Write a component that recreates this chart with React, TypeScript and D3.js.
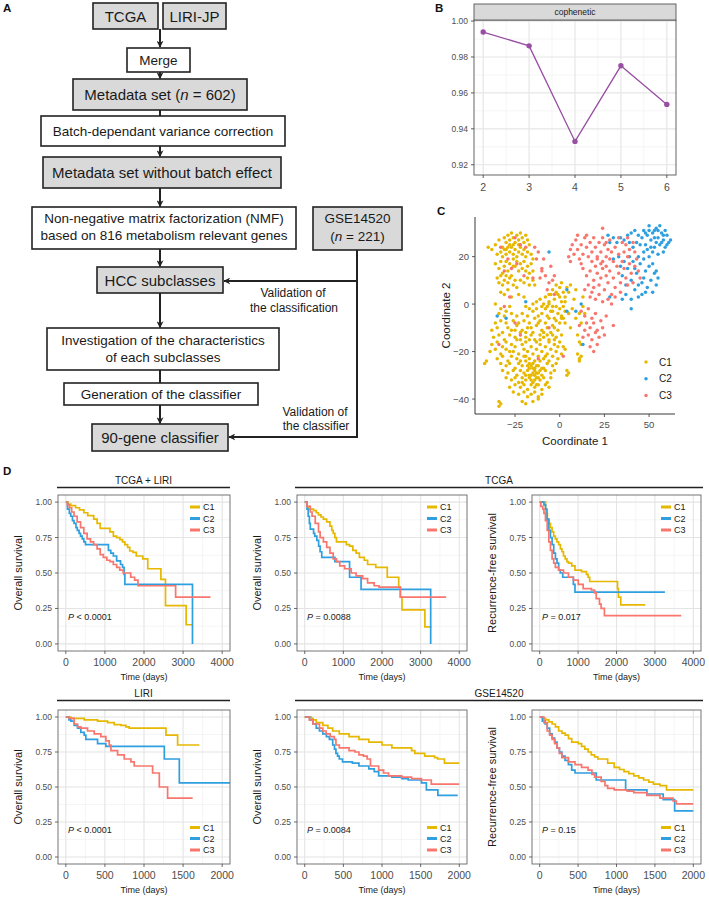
import React from "react";
import * as d3 from "d3";

const FONT = "'Liberation Sans', Arial, Helvetica, sans-serif";
const COL_C1 = "#E7B800";
const COL_C2 = "#2E9FDF";
const COL_C3 = "#F8766D";
const TICK_COL = "#4D4D4D";

// ---------- Panel B: cophenetic ----------
const rankK = [2, 3, 4, 5, 6];
const cophenetic = [0.9939, 0.9862, 0.933, 0.9751, 0.9536];
const copheneticYTicks = [0.92, 0.94, 0.96, 0.98, 1.0];

// ---------- Panel C: MDS coordinates ----------
type P = [number, number];
const mdsC1: P[] = [
  [-40,24],[-38,23],[-36,25],[-34,27],[-32,24],[-31,28],[-30,26],[-29,29],[-28,27],[-27,30],[-26,28],[-25,26],[-24,29],[-23,27],[-22,30],[-21,28],[-20,26],[-19,29],[-18,27],[-17,25],
  [-35,21],[-33,22],[-32,20],[-31,23],[-30,21],[-29,24],[-28,22],[-27,24],[-26,21],[-25,23],[-24,20],[-23,22],[-22,24],[-21,21],[-20,23],[-19,20],[-18,22],[-16,21],[-15,19],
  [-36,17],[-34,15],[-33,18],[-32,13],[-31,16],[-30,18],[-29,14],[-28,17],[-27,12],[-26,19],[-25,16],[-24,18],[-23,14],[-22,17],[-21,15],[-20,18],[-19,14],[-18,16],[-17,13],[-16,17],[-15,14],
  [-35,11],[-34,9],[-33,12],[-32,8],[-31,10],[-30,12],[-29,9],[-28,11],[-26,8],[-25,10],[-24,7],[-22,10],[-20,9],[-18,11],[-17,8],[-15,10],
  [-33,5],[-31,4],[-29,6],[-27,3],[-23,4],[-20,3],[-14,8],[-36,0],[-28,-1],[-26,25],[-28,25],[-23,25],[-30,23],[-26,16],
  [-13,1],[-11,2],[-9,0],[-8,3],[-6,1],[-5,4],[-3,2],[-2,5],[0,3],[1,1],[-4,-1],[-7,-1],
  [-33,-2],[-30,-3],[-19,-1],[-17,-2],[-15,0],[-13,-2],[-10,-1],[-8,-2],[-6,0],[-4,-3],[-2,-1],[0,-2],[2,-1],[3,1],
  [-34,-4],[-31,-5],[-27,-4],[-24,-5],[-21,-4],[-18,-5],[-15,-3],[-12,-5],[-10,-4],[-7,-5],[-5,-3],[-3,-6],[-1,-4],[1,-5],[3,-3],
  [-36,-8],[-33,-7],[-30,-8],[-26,-7],[-23,-8],[-20,-7],[-17,-8],[-14,-6],[-11,-7],[-8,-8],[-6,-6],[-4,-9],[-2,-7],[0,-8],[2,-6],
  [-38,-11],[-35,-10],[-32,-12],[-29,-10],[-27,-11],[-24,-9],[-21,-11],[-18,-10],[-15,-12],[-13,-9],[-10,-11],[-7,-10],[-5,-12],[-3,-10],[-1,-11],
  [-37,-14],[-34,-13],[-31,-15],[-28,-13],[-25,-14],[-22,-12],[-19,-14],[-16,-13],[-14,-15],[-11,-13],[-9,-14],[-6,-15],[-4,-13],[-2,-14],[1,-13],
  [-38,-17],[-35,-16],[-32,-18],[-30,-16],[-27,-17],[-24,-15],[-21,-17],[-19,-16],[-16,-18],[-13,-16],[-11,-17],[-8,-18],[-6,-16],[-3,-17],[0,-16],[2,-18],
  [-39,-20],[-36,-19],[-33,-21],[-30,-19],[-28,-20],[-25,-18],[-23,-21],[-20,-19],[-18,-20],[-15,-21],[-13,-19],[-10,-20],[-7,-21],[-5,-19],[-2,-20],[1,-21],[3,-19],
  [-35,-23],[-32,-22],[-29,-24],[-27,-22],[-24,-23],[-22,-24],[-19,-22],[-17,-23],[-14,-24],[-12,-22],[-9,-23],[-6,-24],[-4,-22],[-1,-23],
  [-42,-25],[-41,-24],[-33,-25],[-30,-26],[-28,-25],[-25,-27],[-23,-25],[-21,-26],[-19,-24],[-17,-27],[-15,-25],[-13,-26],[-11,-24],[-9,-27],[-7,-25],[-4,-26],[-2,-25],
  [-32,-28],[-29,-29],[-26,-28],[-24,-30],[-22,-28],[-20,-29],[-18,-28],[-16,-30],[-14,-28],[-12,-29],[-10,-30],[-8,-28],[-5,-29],[-3,-28],[4,-28],[4,-30],[5,-29],
  [-30,-31],[-27,-32],[-25,-31],[-23,-33],[-21,-31],[-19,-32],[-17,-31],[-15,-33],[-13,-31],[-11,-32],[-9,-31],[-7,-33],[-5,-31],
  [-28,-35],[-25,-34],[-22,-35],[-20,-34],[-18,-36],[-16,-34],[-14,-35],[-12,-34],[-10,-36],[-8,-34],[-6,-35],
  [-26,-37],[-23,-38],[-20,-37],[-18,-39],[-16,-38],[-14,-37],[-12,-39],[-10,-38],
  [-34,-41],[-33,-42],[-34,-43],[-21,-41],[-19,-42],[-15,-41],[-12,-40],
  [-18,-26],[-16,-26],[-14,-27],[-13,-29],[-15,-29],[-17,-30],[-16,-32],[-14,-32],[-12,-31],[-13,-34],[-11,-28],[-15,-27],[-17,-25],[-19,-30],[-21,-33],[-12,-26],[-10,-27],[-14,-30],
  [-16,-10],[-12,-8],[-9,-12],[-19,-12],[-22,-15],[-7,-13],[-17,-15],[-11,-15],[-25,-11],[-20,-22],[-8,-22],[-26,-20],[-3,-15],[-1,-18],
  [-4,6],[-2,8],[0,7],[2,5],[4,7],[-1,4],[1,9],[3,3],[5,5],[-6,4],[6,8],
  [1,-6],[3,-8],[5,-4],[7,-2],[9,-6],[11,-4],[13,-1],[12,-8],[8,2],[6,-10],
  [11,-16],[12,-17],[10,-21],[12,-22],[11,-23],[11,-24],[10,-13],[14,-4],[13,3],[9,6],
];
const mdsC2: P[] = [
  [46,28],[47,31],[48,25],[49,29],[50,33],[51,27],[52,30],[53,24],[54,32],[55,28],[56,25],[57,30],[58,27],[59,24],[60,29],[61,26],[52,22],[55,21],[58,22],[49,23],[50,31],[53,28],[56,33],[57,26],[59,31],[60,25],[54,26],[51,24],[48,30],[62,27],[47,22],[45,25],[44,29],[42,31],[40,30],[38,29],[36,27],[34,28],[32,26],[30,28],[28,26],[27,29],[43,26],[41,24],[39,26],[55,31],[58,29],[53,31],
  [35,12],[37,8],[38,15],[40,10],[41,18],[42,6],[43,13],[44,8],[45,17],[46,4],[47,11],[48,14],[49,7],[50,16],[51,10],[52,5],[53,13],[54,8],[55,11],[44,20],[47,19],[50,20],[36,18],[39,20],[46,9],[52,17],[42,15],[48,5],[54,14],[33,20],[34,16],[30,19],[37,4],[44,3],[40,2],
  [40,-2],[35,2],[28,3],[-35,-5],[-30,-6],[-19,1],[-6,22],[4,6],[4,-3],[13,-17],[12,0],[9,-3],
];
const mdsC3: P[] = [
  [-33,24],[-25,28],[-29,19],[-24,17],[-22,25],[-19,24],[-27,15],[-31,14],[-20,12],[-14,24],[-12,22],[-13,19],[-10,15],[-8,12],[-11,11],[-9,19],[-6,9],[-7,6],[-4,10],[-3,12],[-5,16],[-15,11],[-34,-17],[-31,-1],[-25,-8],[-22,-13],[-12,-23],[-6,-10],[2,-22],[-28,3],[-10,14],[-3,4],
  [5,20],[6,23],[7,25],[8,21],[9,27],[10,23],[11,19],[12,25],[13,21],[14,28],[15,24],[16,20],[17,26],[18,22],[19,28],[20,24],[21,19],[22,26],[23,22],[24,28],[25,25],[26,20],[27,23],[28,27],[10,29],[15,29],[6,18],[12,17],[18,18],[24,18],[24,32],
  [13,15],[15,12],[17,14],[19,10],[20,16],[21,13],[22,8],[23,11],[24,15],[25,6],[26,12],[27,9],[28,14],[29,4],[30,11],[31,7],[32,16],[33,13],[34,9],[35,18],[36,15],[37,11],[38,20],[39,17],[40,13],[41,9],[42,16],[43,19],[44,14],[45,11],[16,8],[18,5],[20,2],[22,4],[24,1],[27,2],[29,0],[31,3],[14,6],[17,3],[19,7],[23,17],[26,16],[30,18],[33,21],[36,22],[39,23],[42,22],[34,5],[38,8],[21,20],[28,19],[31,24],[35,26],[37,25],[41,26],[29,22],[26,26],[33,28],[38,28],
  [12,-3],[14,-5],[16,-2],[18,-6],[20,-4],[15,-8],[17,-10],[19,-8],[21,-11],[23,-7],[16,-13],[18,-15],[20,-12],[22,-14],[24,-10],[17,-18],[19,-20],[21,-17],[14,-11],[25,-13],[30,-9],[13,-14],[26,-5],[11,-9],
];
const mdsXTicks = [-25, 0, 25, 50];
const mdsYTicks = [-40, -20, 0, 20];

// ---------- Panel D: Kaplan-Meier steps [time, survival] ----------
type S = [number, number];
const tcgaLiriOS_C1: S[] = [[0,1],[60,.985],[126,.975],[250,.96],[350,.945],[461,.925],[560,.905],[713,.88],[800,.85],[880,.815],[1130,.79],[1216,.76],[1300,.75],[1384,.735],[1450,.72],[1510,.70],[1580,.68],[1635,.655],[1719,.645],[1803,.62],[1970,.60],[2096,.53],[2432,.455],[2550,.27],[3078,.135],[3250,.135]];
const tcgaLiriOS_C2: S[] = [[0,1],[42,.95],[90,.92],[126,.90],[170,.87],[210,.85],[260,.82],[294,.80],[340,.78],[377,.76],[420,.74],[461,.72],[503,.70],[1090,.66],[1150,.64],[1216,.62],[1300,.585],[1400,.56],[1451,.54],[1490,.49],[1510,.42],[3240,0]];
const tcgaLiriOS_C3: S[] = [[0,1],[40,.98],[90,.96],[150,.93],[210,.90],[290,.86],[377,.82],[460,.78],[545,.74],[630,.72],[713,.70],[800,.67],[880,.63],[960,.61],[1050,.59],[1130,.58],[1216,.56],[1300,.54],[1380,.52],[1468,.50],[1660,.47],[1760,.45],[1845,.41],[2809,.33],[3700,.33]];

const tcgaOS_C1: S[] = [[0,1],[50,.97],[102,.95],[229,.94],[300,.925],[356,.91],[420,.895],[483,.88],[568,.86],[653,.83],[700,.80],[737,.78],[780,.75],[822,.72],[1076,.70],[1161,.69],[1246,.66],[1330,.64],[1415,.61],[1542,.59],[1627,.56],[1839,.54],[2136,.47],[2432,.40],[2475,.33],[2517,.24],[3110,.12],[3280,.12]];
const tcgaOS_C2: S[] = [[0,1],[59,.95],[90,.90],[120,.85],[144,.81],[229,.78],[260,.76],[314,.73],[360,.69],[398,.65],[441,.61],[780,.58],[1161,.47],[1458,.385],[3260,0]];
const tcgaOS_C3: S[] = [[0,1],[60,.97],[144,.93],[190,.90],[271,.85],[356,.79],[398,.75],[483,.72],[568,.68],[653,.64],[737,.60],[822,.58],[907,.55],[1034,.53],[1203,.50],[1330,.48],[1500,.46],[1627,.43],[1797,.41],[1924,.40],[2475,.33],[3660,.33]];

const tcgaRFS_C1: S[] = [[0,1],[153,.92],[200,.88],[238,.85],[280,.82],[323,.79],[365,.76],[408,.74],[450,.72],[494,.70],[540,.67],[579,.65],[620,.62],[664,.60],[710,.58],[749,.57],[834,.55],[919,.52],[1089,.51],[1217,.49],[1260,.47],[1302,.44],[2026,.39],[2050,.33],[2111,.275],[2750,.275]];
const tcgaRFS_C2: S[] = [[0,1],[111,.98],[153,.95],[190,.88],[238,.80],[280,.75],[323,.70],[366,.64],[410,.60],[451,.57],[494,.52],[536,.50],[600,.47],[877,.42],[919,.365],[3260,.365]];
const tcgaRFS_C3: S[] = [[0,1],[30,.97],[80,.95],[111,.92],[150,.87],[196,.80],[238,.72],[280,.66],[323,.60],[365,.57],[408,.54],[494,.52],[621,.50],[749,.47],[877,.45],[1004,.42],[1132,.39],[1345,.38],[1430,.36],[1472,.32],[1557,.28],[1600,.25],[1685,.20],[3685,.20]];

const liriOS_C1: S[] = [[0,1],[64,.99],[235,.98],[406,.97],[534,.96],[619,.945],[705,.94],[769,.93],[811,.92],[1281,.87],[1430,.80],[1708,.80]];
const liriOS_C2: S[] = [[0,1],[40,.98],[64,.97],[107,.94],[150,.92],[192,.89],[235,.87],[256,.84],[406,.81],[512,.79],[1260,.70],[1452,.53],[2300,.53]];
const liriOS_C3: S[] = [[0,1],[43,.99],[107,.95],[150,.93],[192,.92],[278,.90],[363,.88],[448,.86],[512,.83],[555,.80],[577,.76],[662,.73],[747,.70],[833,.68],[875,.65],[1110,.60],[1196,.50],[1302,.42],[1622,.42]];

const gseOS_C1: S[] = [[0,1],[85,.99],[106,.98],[149,.96],[234,.94],[300,.92],[362,.90],[447,.88],[574,.86],[702,.84],[830,.82],[1000,.80],[1128,.78],[1383,.76],[1425,.74],[1553,.72],[1681,.71],[1720,.70],[1808,.67],[2000,.67]];
const gseOS_C2: S[] = [[0,1],[64,.98],[106,.95],[149,.92],[190,.90],[234,.88],[280,.86],[319,.84],[362,.80],[385,.77],[404,.74],[425,.72],[447,.70],[489,.68],[617,.67],[702,.65],[830,.63],[900,.61],[957,.58],[1128,.57],[1255,.56],[1340,.55],[1510,.53],[1574,.48],[1723,.44],[1980,.44]];
const gseOS_C3: S[] = [[0,1],[60,.98],[106,.95],[191,.92],[234,.90],[277,.88],[330,.86],[383,.84],[404,.80],[447,.78],[574,.76],[650,.75],[702,.73],[760,.72],[808,.70],[851,.65],[957,.62],[1020,.60],[1085,.58],[1255,.57],[1383,.56],[1510,.55],[1638,.52],[2000,.52]];

const gseRFS_C1: S[] = [[0,1],[40,.99],[77,.98],[120,.965],[162,.95],[205,.93],[247,.90],[290,.885],[332,.87],[375,.845],[417,.82],[502,.81],[545,.79],[587,.77],[630,.75],[672,.73],[715,.715],[757,.70],[885,.67],[970,.64],[1040,.625],[1098,.61],[1160,.595],[1225,.58],[1290,.565],[1353,.55],[1420,.535],[1481,.52],[1566,.51],[1651,.48],[2000,.48]];
const gseRFS_C2: S[] = [[0,1],[34,.97],[70,.95],[98,.92],[130,.88],[162,.85],[195,.82],[225,.78],[257,.75],[289,.72],[330,.69],[374,.66],[417,.62],[460,.60],[736,.55],[1119,.48],[1396,.45],[1608,.41],[1757,.33],[2000,.33]];
const gseRFS_C3: S[] = [[0,1],[55,.96],[98,.90],[130,.87],[162,.84],[195,.81],[225,.78],[257,.74],[289,.71],[374,.68],[460,.66],[545,.64],[630,.62],[680,.59],[715,.57],[800,.54],[850,.51],[885,.49],[970,.48],[1140,.47],[1225,.46],[1396,.44],[1566,.42],[1736,.40],[1779,.38],[2000,.38]];

const kmYTicks = [0, 0.25, 0.5, 0.75, 1];
const kmXTicksLong = [0, 1000, 2000, 3000, 4000];
const kmXTicksShort = [0, 500, 1000, 1500, 2000];
const groupNames = ["C1", "C2", "C3"];
const groupColors = [COL_C1, COL_C2, COL_C3];

// ---------- Flowchart ----------
function Box({ x, y, w, h, fill, children }: any) {
  return (
    <g>
      <rect x={x} y={y} width={w} height={h} fill={fill ? "#D9D9D9" : "#fff"} stroke="#222" strokeWidth={1.6} />
      {children}
    </g>
  );
}

function Flowchart() {
  const t = (x: number, y: number, s: string, fs: number) => (
    <text x={x} y={y} textAnchor="middle" fontSize={fs} fill="#1a1a1a" fontFamily={FONT}>{s}</text>
  );
  const arrow = "url(#arrowHead)";
  return (
    <g>
      <Box x={93} y={3} w={65} h={26} fill>{t(125.5, 21.5, "TCGA", 15)}</Box>
      <Box x={163} y={3} w={63} h={26} fill>{t(194.5, 21.5, "LIRI-JP", 15)}</Box>
      <line x1={160} y1={29} x2={160} y2={47} stroke="#222" strokeWidth={2} markerEnd={arrow} />
      <Box x={127} y={48} w={63} h={24}>{t(158.5, 64.5, "Merge", 13.5)}</Box>
      <line x1={160} y1={72} x2={160} y2={78.5} stroke="#222" strokeWidth={2} markerEnd={arrow} />
      <Box x={73} y={79} w={174} h={31} fill>
        <text x={160} y={100} textAnchor="middle" fontSize={15} fill="#1a1a1a" fontFamily={FONT}>
          Metadata set (<tspan fontStyle="italic">n</tspan> = 602)
        </text>
      </Box>
      <line x1={160} y1={110} x2={160} y2={116} stroke="#222" strokeWidth={2} />
      <Box x={41} y={116} w={244} h={30}>{t(163, 135.5, "Batch-dependant variance correction", 13.5)}</Box>
      <line x1={160} y1={146} x2={160} y2={156.5} stroke="#222" strokeWidth={2} markerEnd={arrow} />
      <Box x={43} y={157} w={238} h={31} fill>{t(162, 178, "Metadata set without batch effect", 15)}</Box>
      <line x1={160} y1={188} x2={160} y2={206.5} stroke="#222" strokeWidth={2} markerEnd={arrow} />
      <Box x={32} y={207} w={264} h={42}>
        {t(164, 223, "Non-negative matrix factorization (NMF)", 13.5)}
        {t(164, 240, "based on 816 metabolism relevant genes", 13.5)}
      </Box>
      <Box x={313} y={207} w={89} h={43} fill>
        {t(357.5, 223, "GSE14520", 13.5)}
        <text x={357.5} y={241} textAnchor="middle" fontSize={13.5} fill="#1a1a1a" fontFamily={FONT}>
          (<tspan fontStyle="italic">n</tspan> = 221)
        </text>
      </Box>
      <line x1={160} y1={249} x2={160} y2={266.5} stroke="#222" strokeWidth={2} markerEnd={arrow} />
      <Box x={97} y={267} w={126} h={26} fill>{t(160, 285.5, "HCC subclasses", 15)}</Box>
      <line x1={357} y1={250} x2={357} y2={437} stroke="#222" strokeWidth={2} />
      <line x1={358} y1={281} x2={224} y2={281} stroke="#222" strokeWidth={2} markerEnd={arrow} />
      {t(293, 297, "Validation of", 12)}
      {t(294, 312, "the classification", 12)}
      <line x1={160} y1={293} x2={160} y2={327.5} stroke="#222" strokeWidth={2} markerEnd={arrow} />
      <Box x={47} y={328} w={232} h={42}>
        {t(163, 345, "Investigation of the characteristics", 13.5)}
        {t(163, 361.5, "of each subclasses", 13.5)}
      </Box>
      <line x1={160} y1={370} x2={160} y2={383} stroke="#222" strokeWidth={2} />
      <Box x={64} y={383} w={194} h={22}>{t(161, 398.5, "Generation of the classifier", 13.5)}</Box>
      <line x1={160} y1={405} x2={160} y2={423.5} stroke="#222" strokeWidth={2} markerEnd={arrow} />
      <Box x={92} y={424} w={136} h={27} fill>{t(160, 443, "90-gene classifier", 15)}</Box>
      <line x1={358} y1={437} x2={229} y2={437} stroke="#222" strokeWidth={2} markerEnd={arrow} />
      {t(315, 416, "Validation of", 12)}
      {t(316, 430, "the classifier", 12)}
    </g>
  );
}

// ---------- Panel B ----------
function PanelB() {
  const L = 474, R = 676, T = 20, B = 175;
  const x = d3.scaleLinear().domain([1.8, 6.2]).range([L, R]);
  const y = d3.scaleLinear().domain([0.9143, 1.0006]).range([B, T]);
  const minorX = [2.5, 3.5, 4.5, 5.5];
  const minorY = [0.93, 0.95, 0.97, 0.99];
  const pts = rankK.map((k, i) => [k, cophenetic[i]] as [number, number]);
  const line = d3.line<[number, number]>().x(d => x(d[0])).y(d => y(d[1]));
  return (
    <g fontFamily={FONT}>
      <rect x={L} y={T} width={R - L} height={B - T} fill="#fff" />
      {minorX.map(v => <line key={"mx" + v} x1={x(v)} x2={x(v)} y1={T} y2={B} stroke="#F2F2F2" strokeWidth={0.8} />)}
      {minorY.map(v => <line key={"my" + v} y1={y(v)} y2={y(v)} x1={L} x2={R} stroke="#F2F2F2" strokeWidth={0.8} />)}
      {rankK.map(v => <line key={"gx" + v} x1={x(v)} x2={x(v)} y1={T} y2={B} stroke="#E6E6E6" strokeWidth={1.2} />)}
      {copheneticYTicks.map(v => <line key={"gy" + v} y1={y(v)} y2={y(v)} x1={L} x2={R} stroke="#E6E6E6" strokeWidth={1.2} />)}
      <path d={line(pts) || ""} fill="none" stroke="#984EA3" strokeWidth={1.3} />
      {pts.map((p, i) => <circle key={i} cx={x(p[0])} cy={y(p[1])} r={2.7} fill="#984EA3" />)}
      <rect x={L} y={T} width={R - L} height={B - T} fill="none" stroke="#555" strokeWidth={0.9} />
      <rect x={L} y={4} width={R - L} height={16} fill="#D9D9D9" stroke="#555" strokeWidth={0.9} />
      <text x={(L + R) / 2} y={15} textAnchor="middle" fontSize={8.5} fill="#1a1a1a">cophenetic</text>
      {copheneticYTicks.map(v => (
        <g key={"ty" + v}>
          <line x1={L - 3} x2={L} y1={y(v)} y2={y(v)} stroke="#333" strokeWidth={0.8} />
          <text x={L - 6} y={y(v) + 3} textAnchor="end" fontSize={8.5} fill={TICK_COL}>{v.toFixed(2)}</text>
        </g>
      ))}
      {rankK.map(v => (
        <g key={"tx" + v}>
          <line x1={x(v)} x2={x(v)} y1={B} y2={B + 3} stroke="#333" strokeWidth={0.8} />
          <text x={x(v)} y={B + 16} textAnchor="middle" fontSize={10.5} fill={TICK_COL}>{v}</text>
        </g>
      ))}
    </g>
  );
}

// ---------- Panel C ----------
function PanelC() {
  const L = 475, R = 675, T = 217, B = 414;
  const x = d3.scaleLinear().domain([-47.4, 64.5]).range([L, R]);
  const y = d3.scaleLinear().domain([-46.3, 36.7]).range([B, T]);
  const groups: [P[], string][] = [[mdsC1, COL_C1], [mdsC2, COL_C2], [mdsC3, COL_C3]];
  return (
    <g fontFamily={FONT}>
      {groups.map(([pts, c], gi) => pts.map((p, i) => (
        <circle key={gi + "-" + i} cx={x(p[0])} cy={y(p[1])} r={1.75} fill={c} />
      )))}
      <line x1={L} x2={L} y1={T} y2={B} stroke="#222" strokeWidth={0.9} />
      <line x1={L} x2={R} y1={B} y2={B} stroke="#222" strokeWidth={0.9} />
      {mdsXTicks.map(v => (
        <g key={"x" + v}>
          <line x1={x(v)} x2={x(v)} y1={B} y2={B + 3} stroke="#333" strokeWidth={0.8} />
          <text x={x(v)} y={B + 14} textAnchor="middle" fontSize={9.5} fill={TICK_COL}>{v < 0 ? "\u2212" + Math.abs(v) : v}</text>
        </g>
      ))}
      {mdsYTicks.map(v => (
        <g key={"y" + v}>
          <line x1={L - 3} x2={L} y1={y(v)} y2={y(v)} stroke="#333" strokeWidth={0.8} />
          <text x={L - 6} y={y(v) + 3.5} textAnchor="end" fontSize={9.5} fill={TICK_COL}>{v < 0 ? "\u2212" + Math.abs(v) : v}</text>
        </g>
      ))}
      <text x={(L + R) / 2} y={445} textAnchor="middle" fontSize={11.5} fill="#1a1a1a">Coordinate 1</text>
      <text transform={`translate(450,${(T + B) / 2}) rotate(-90)`} textAnchor="middle" fontSize={11.5} fill="#1a1a1a">Coordinate 2</text>
      {groupNames.map((g, i) => (
        <g key={g}>
          <circle cx={646} cy={362 + i * 16.8} r={1.75} fill={groupColors[i]} />
          <text x={659} y={362 + i * 16.8 + 3.5} fontSize={10} fill="#1a1a1a">{g}</text>
        </g>
      ))}
    </g>
  );
}

// ---------- Panel D ----------
type KMProps = {
  id: string; left: number; right: number; top: number; bottom: number;
  xMax: number; xTicks: number[]; yTitle: string; pText: string;
  curves: S[][]; legendTop: boolean;
};

function KMPanel({ id, left, right, top, bottom, xMax, xTicks, yTitle, pText, curves, legendTop }: KMProps) {
  const x = d3.scaleLinear().domain([-0.05 * xMax, 1.05 * xMax]).range([left, right]);
  const y = d3.scaleLinear().domain([-0.05, 1.05]).range([bottom, top]);
  const step = xTicks[1] - xTicks[0];
  const minorX = xTicks.slice(0, -1).map(v => v + step / 2);
  const minorY = [0.125, 0.375, 0.625, 0.875];
  const line = d3.line<S>().x(d => x(d[0])).y(d => y(d[1])).curve(d3.curveStepAfter);
  const legendYs = legendTop ? [top + 12, top + 23.5, top + 35] : [bottom - 36.5, bottom - 25.5, bottom - 14];
  return (
    <g fontFamily={FONT}>
      <defs>
        <clipPath id={"clip-" + id}><rect x={left} y={top} width={right - left} height={bottom - top} /></clipPath>
      </defs>
      <rect x={left} y={top} width={right - left} height={bottom - top} fill="#fff" />
      {minorX.map(v => <line key={"mx" + v} x1={x(v)} x2={x(v)} y1={top} y2={bottom} stroke="#F2F2F2" strokeWidth={0.8} />)}
      {minorY.map(v => <line key={"my" + v} y1={y(v)} y2={y(v)} x1={left} x2={right} stroke="#F2F2F2" strokeWidth={0.8} />)}
      {xTicks.map(v => <line key={"gx" + v} x1={x(v)} x2={x(v)} y1={top} y2={bottom} stroke="#E4E4E4" strokeWidth={1.1} />)}
      {kmYTicks.map(v => <line key={"gy" + v} y1={y(v)} y2={y(v)} x1={left} x2={right} stroke="#E4E4E4" strokeWidth={1.1} />)}
      <g clipPath={`url(#clip-${id})`}>
        {curves.map((c, i) => (
          <path key={i} d={line(c) || ""} fill="none" stroke={groupColors[i]} strokeWidth={1.7} />
        ))}
      </g>
      <rect x={left} y={top} width={right - left} height={bottom - top} fill="none" stroke="#666" strokeWidth={0.9} />
      {kmYTicks.map(v => (
        <g key={"ty" + v}>
          <line x1={left - 3} x2={left} y1={y(v)} y2={y(v)} stroke="#444" strokeWidth={0.8} />
          <text x={left - 6} y={y(v) + 3} textAnchor="end" fontSize={8.5} fill={TICK_COL}>{v.toFixed(2)}</text>
        </g>
      ))}
      {xTicks.map(v => (
        <g key={"tx" + v}>
          <line x1={x(v)} x2={x(v)} y1={bottom} y2={bottom + 3} stroke="#444" strokeWidth={0.8} />
          <text x={x(v)} y={bottom + 15} textAnchor="middle" fontSize={10.5} fill={TICK_COL}>{v}</text>
        </g>
      ))}
      <text x={(left + right) / 2} y={bottom + 29} textAnchor="middle" fontSize={9} fill="#1a1a1a">Time (days)</text>
      <text transform={`translate(${left - 36},${(top + bottom) / 2}) rotate(-90)`} textAnchor="middle" fontSize={11} fill="#1a1a1a">{yTitle}</text>
      <text x={left + 10} y={y(0.19) + 3} fontSize={9} fill="#1a1a1a">
        <tspan fontStyle="italic">P</tspan>{pText}
      </text>
      {groupNames.map((g, i) => (
        <g key={g}>
          <line x1={right - 40} x2={right - 30} y1={legendYs[i]} y2={legendYs[i]} stroke={groupColors[i]} strokeWidth={3} />
          <text x={right - 27} y={legendYs[i] + 3.2} fontSize={9} fill="#1a1a1a">{g}</text>
        </g>
      ))}
    </g>
  );
}

function Header({ x1, x2, y, label }: { x1: number; x2: number; y: number; label: string }) {
  return (
    <g fontFamily={FONT}>
      <text x={(x1 + x2) / 2} y={y - 4} textAnchor="middle" fontSize={10} fill="#1a1a1a">{label}</text>
      <line x1={x1} x2={x2} y1={y} y2={y} stroke="#222" strokeWidth={1.6} />
    </g>
  );
}

const panelLefts = [58, 297, 532];
const panelRights = [230, 467, 701];

export default function App() {
  const topT = 495, topB = 651, botT = 710, botB = 864;
  return (
    <svg width={709} height={899} viewBox="0 0 709 899" style={{ position: "absolute", left: 0, top: 0, background: "#fff" }}>
      <defs>
        <marker id="arrowHead" viewBox="0 0 10 10" refX="9" refY="5" markerWidth="7" markerHeight="7" orient="auto" markerUnits="userSpaceOnUse">
          <path d="M0,0 L10,5 L0,10 L3,5 z" fill="#222" />
        </marker>
      </defs>
      <rect x={0} y={0} width={709} height={899} fill="#fff" />
      <g fontFamily={FONT} fontWeight="bold" fontSize={11.5} fill="#111">
        <text x={3} y={12}>A</text>
        <text x={435} y={12}>B</text>
        <text x={437} y={215}>C</text>
        <text x={3} y={475}>D</text>
      </g>
      <Flowchart />
      <PanelB />
      <PanelC />

      <Header x1={57} x2={230} y={487.5} label="TCGA + LIRI" />
      <Header x1={295} x2={703} y={487.5} label="TCGA" />
      <Header x1={57} x2={230} y={700.5} label="LIRI" />
      <Header x1={295} x2={703} y={700.5} label="GSE14520" />

      <KMPanel id="k1" left={panelLefts[0]} right={panelRights[0]} top={topT} bottom={topB} xMax={4000} xTicks={kmXTicksLong}
        yTitle="Overall survival" pText=" < 0.0001" curves={[tcgaLiriOS_C1, tcgaLiriOS_C2, tcgaLiriOS_C3]} legendTop />
      <KMPanel id="k2" left={panelLefts[1]} right={panelRights[1]} top={topT} bottom={topB} xMax={4000} xTicks={kmXTicksLong}
        yTitle="Overall survival" pText=" = 0.0088" curves={[tcgaOS_C1, tcgaOS_C2, tcgaOS_C3]} legendTop />
      <KMPanel id="k3" left={panelLefts[2]} right={panelRights[2]} top={topT} bottom={topB} xMax={4000} xTicks={kmXTicksLong}
        yTitle="Recurrence-free survival" pText=" = 0.017" curves={[tcgaRFS_C1, tcgaRFS_C2, tcgaRFS_C3]} legendTop />
      <KMPanel id="k4" left={panelLefts[0]} right={panelRights[0]} top={botT} bottom={botB} xMax={2000} xTicks={kmXTicksShort}
        yTitle="Overall survival" pText=" < 0.0001" curves={[liriOS_C1, liriOS_C2, liriOS_C3]} legendTop={false} />
      <KMPanel id="k5" left={panelLefts[1]} right={panelRights[1]} top={botT} bottom={botB} xMax={2000} xTicks={kmXTicksShort}
        yTitle="Overall survival" pText=" = 0.0084" curves={[gseOS_C1, gseOS_C2, gseOS_C3]} legendTop={false} />
      <KMPanel id="k6" left={panelLefts[2]} right={panelRights[2]} top={botT} bottom={botB} xMax={2000} xTicks={kmXTicksShort}
        yTitle="Recurrence-free survival" pText=" = 0.15" curves={[gseRFS_C1, gseRFS_C2, gseRFS_C3]} legendTop={false} />
    </svg>
  );
}
